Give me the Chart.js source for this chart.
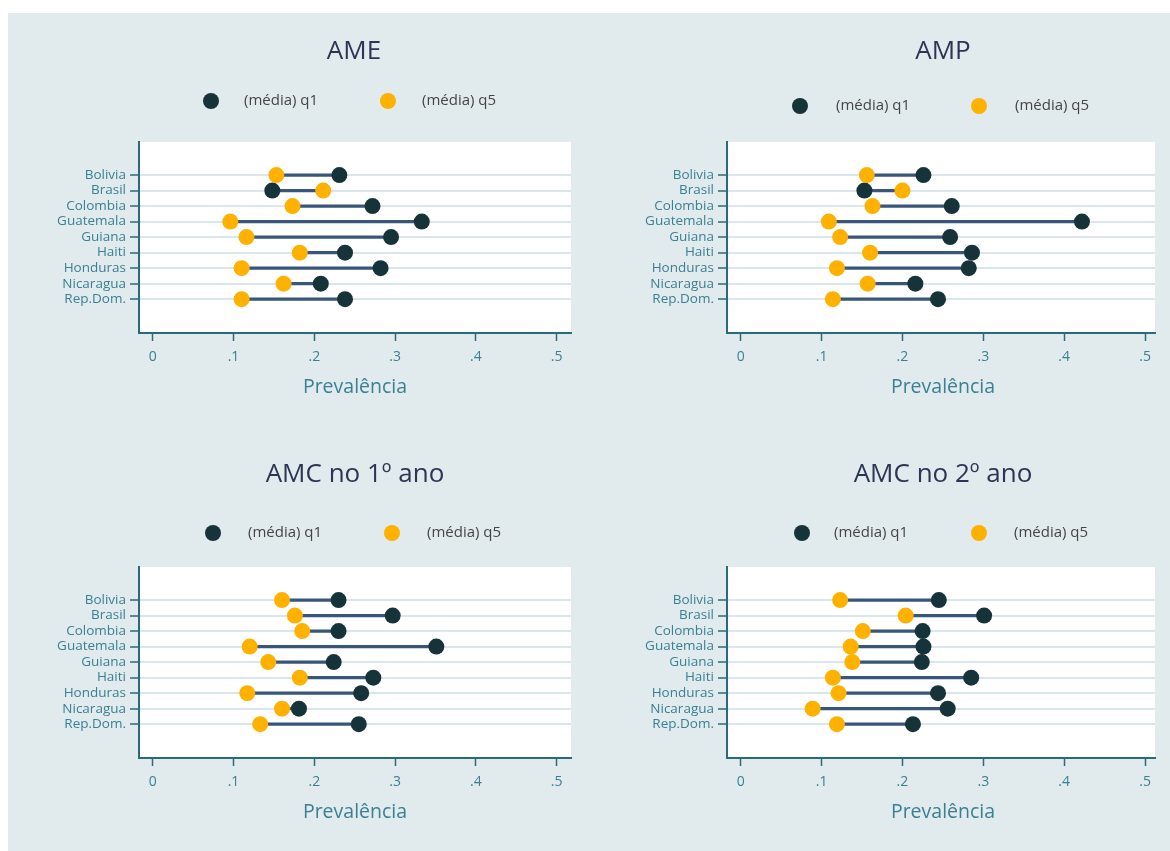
<!DOCTYPE html>
<html>
<head>
<meta charset="utf-8">
<script src="https://cdn.jsdelivr.net/npm/chart.js@4/dist/chart.umd.min.js"></script>
<style>
  html, body { margin: 0; padding: 0; background: #ffffff; width: 1170px; height: 851px; overflow: hidden; }
  #bg { position: absolute; left: 8px; top: 13px; width: 1162px; height: 838px; background: #e1ebee; }
  canvas { position: absolute; display: block; }
</style>
</head>
<body>
<div id="bg"></div>
<canvas id="c1" width="577" height="417" style="left:8px;top:13px"></canvas>
<canvas id="c2" width="585" height="417" style="left:585px;top:13px"></canvas>
<canvas id="c3" width="577" height="421" style="left:8px;top:430px"></canvas>
<canvas id="c4" width="585" height="421" style="left:585px;top:430px"></canvas>
<script>
// Countries on the vertical axis
const categories = ['Bolivia', 'Brasil', 'Colombia', 'Guatemala', 'Guiana', 'Haiti', 'Honduras', 'Nicaragua', 'Rep.Dom.'];

// Mean prevalence, first quintile (q1) and fifth quintile (q5)
const ameQ1  = [0.231, 0.148, 0.272, 0.333, 0.295, 0.238, 0.282, 0.208, 0.238];
const ameQ5  = [0.153, 0.211, 0.173, 0.096, 0.116, 0.182, 0.110, 0.162, 0.110];
const ampQ1  = [0.226, 0.153, 0.261, 0.422, 0.259, 0.286, 0.282, 0.216, 0.244];
const ampQ5  = [0.156, 0.200, 0.163, 0.109, 0.123, 0.160, 0.119, 0.157, 0.114];
const amc1Q1 = [0.230, 0.297, 0.230, 0.351, 0.224, 0.273, 0.258, 0.181, 0.255];
const amc1Q5 = [0.160, 0.176, 0.185, 0.120, 0.143, 0.182, 0.117, 0.160, 0.133];
const amc2Q1 = [0.245, 0.301, 0.225, 0.226, 0.224, 0.285, 0.244, 0.256, 0.213];
const amc2Q5 = [0.123, 0.204, 0.151, 0.136, 0.138, 0.114, 0.121, 0.089, 0.119];

// Horizontal axis ticks and labels
const xTickValues = [0, 0.1, 0.2, 0.3, 0.4, 0.5];
const xTickLabels = ['0', '.1', '.2', '.3', '.4', '.5'];

const panelTitles  = ['AME', 'AMP', 'AMC no 1º ano', 'AMC no 2º ano'];
const legendLabels = ['(média) q1', '(média) q5'];
const axisTitle    = 'Prevalência';

// Colours
const COL_Q1 = '#17333a';
const COL_Q5 = '#ffb100';
const COL_LINK = '#38557a';
const COL_AXIS = '#2b6b79';
const COL_GRID = '#d9e6ec';
const COL_TICK_TEXT = '#3b7f93';
const COL_TITLE = '#2c3553';
const COL_LEGEND = '#454545';
const FONT = '"Open Sans", Lato, sans-serif';

// Layout of each panel (canvas coordinates)
const panelLayouts = [
  { id: 'c1', yWidth: 131, padTop: 129, padRight: 14, xHeight: 97, xMin: -0.017, xMax: 0.5177,
    titleX: 346, titleY: 39, legY: 88, leg: [203, 236, 380, 414], axisX: 347, axisY: 374 },
  { id: 'c2', yWidth: 142, padTop: 129, padRight: 15, xHeight: 97, xMin: -0.0169, xMax: 0.5123,
    titleX: 358, titleY: 39, legY: 93, leg: [215, 251, 394, 430], axisX: 358, axisY: 374 },
  { id: 'c3', yWidth: 131, padTop: 137, padRight: 14, xHeight: 93, xMin: -0.017, xMax: 0.5177,
    titleX: 347, titleY: 45, legY: 103, leg: [205, 240, 384, 419], axisX: 347, axisY: 382 },
  { id: 'c4', yWidth: 142, padTop: 137, padRight: 15, xHeight: 93, xMin: -0.0169, xMax: 0.5123,
    titleX: 358, titleY: 45, legY: 103, leg: [217, 249, 394, 429], axisX: 358, axisY: 382 }
];

const panelData = [
  [ameQ1, ameQ5], [ampQ1, ampQ5], [amc1Q1, amc1Q5], [amc2Q1, amc2Q5]
];

function decorPlugin(title, L) {
  return {
    id: 'decor',
    beforeDraw(chart) {
      const { ctx, chartArea: a } = chart;
      ctx.save();
      ctx.fillStyle = '#ffffff';
      ctx.fillRect(a.left, a.top, a.right - a.left, a.bottom - a.top);
      ctx.restore();
    },
    afterDraw(chart) {
      const ctx = chart.ctx;
      ctx.save();
      // panel title
      ctx.font = '26px ' + FONT;
      ctx.fillStyle = COL_TITLE;
      ctx.textAlign = 'center';
      ctx.textBaseline = 'middle';
      ctx.fillText(title, L.titleX, L.titleY);
      // legend
      const marks = [[L.leg[0], L.leg[1], COL_Q1, legendLabels[0]], [L.leg[2], L.leg[3], COL_Q5, legendLabels[1]]];
      ctx.font = '15px ' + FONT;
      ctx.textAlign = 'left';
      marks.forEach(([dx, tx, col, txt]) => {
        ctx.beginPath();
        ctx.fillStyle = col;
        ctx.arc(dx, L.legY, 8, 0, Math.PI * 2);
        ctx.fill();
        ctx.fillStyle = COL_LEGEND;
        ctx.fillText(txt, tx, L.legY);
      });
      // horizontal axis title
      ctx.font = '19.5px ' + FONT;
      ctx.fillStyle = COL_TICK_TEXT;
      ctx.textAlign = 'center';
      ctx.fillText(axisTitle, L.axisX, L.axisY);
      ctx.restore();
    }
  };
}

function buildPanel(k) {
  const L = panelLayouts[k];
  const [q1, q5] = panelData[k];
  const links = categories.map((c, i) => ({ y: i, x: [q5[i], q1[i]] }));
  const ptsQ1 = categories.map((c, i) => ({ x: q1[i], y: i }));
  const ptsQ5 = categories.map((c, i) => ({ x: q5[i], y: i }));

  new Chart(document.getElementById(L.id), {
    type: 'bar',
    data: {
      datasets: [
        { type: 'bar', indexAxis: 'y', data: links, backgroundColor: COL_LINK,
          barThickness: 2.5, borderWidth: 0, order: 3, xAxisID: 'x', yAxisID: 'y' },
        { type: 'scatter', label: legendLabels[0], data: ptsQ1, backgroundColor: COL_Q1,
          pointRadius: 8, pointBorderWidth: 0, order: 2, xAxisID: 'x', yAxisID: 'y' },
        { type: 'scatter', label: legendLabels[1], data: ptsQ5, backgroundColor: COL_Q5,
          pointRadius: 8, pointBorderWidth: 0, order: 1, xAxisID: 'x', yAxisID: 'y' }
      ]
    },
    options: {
      responsive: false,
      animation: false,
      devicePixelRatio: 1,
      events: [],
      layout: { padding: { top: L.padTop, right: L.padRight, left: 0, bottom: 0 } },
      plugins: { legend: { display: false }, tooltip: { enabled: false }, title: { display: false } },
      scales: {
        x: {
          type: 'linear', position: 'bottom', min: L.xMin, max: L.xMax, offset: false,
          afterBuildTicks: s => { s.ticks = xTickValues.map(v => ({ value: v })); },
          afterFit: s => { s.height = L.xHeight; },
          ticks: {
            callback: (v) => xTickLabels[xTickValues.indexOf(v)],
            color: COL_TICK_TEXT, font: { family: FONT, size: 14 }, padding: 8, maxRotation: 0
          },
          grid: { offset: false, drawOnChartArea: false, drawTicks: true, tickLength: 8,
                  tickColor: COL_AXIS, tickWidth: 1.5 },
          border: { display: true, color: COL_AXIS, width: 2 }
        },
        y: {
          type: 'linear', position: 'left', reverse: true, min: -2.13, max: 10.18, offset: false,
          afterBuildTicks: s => { s.ticks = categories.map((c, i) => ({ value: i })); },
          afterFit: s => { s.width = L.yWidth; },
          ticks: {
            callback: (v) => categories[v],
            color: COL_TICK_TEXT, font: { family: FONT, size: 13.5 }, padding: 4, autoSkip: false
          },
          grid: { offset: false, drawOnChartArea: true, color: COL_GRID, lineWidth: 2, drawTicks: true,
                  tickLength: 9, tickColor: COL_AXIS, tickWidth: 1.5 },
          border: { display: true, color: COL_AXIS, width: 2 }
        }
      }
    },
    plugins: [decorPlugin(panelTitles[k], L)]
  });
}

for (let k = 0; k < 4; k++) buildPanel(k);
</script>
</body>
</html>
